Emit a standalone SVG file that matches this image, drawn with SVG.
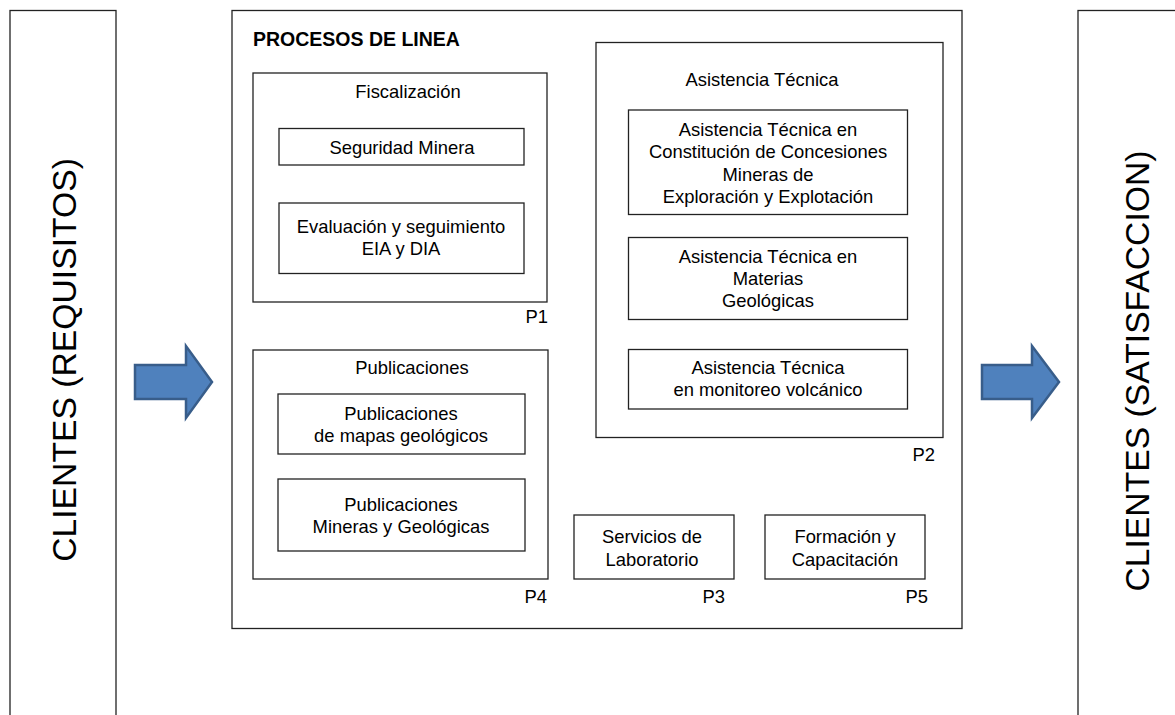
<svg xmlns="http://www.w3.org/2000/svg" width="1175" height="715" viewBox="0 0 1175 715">
<defs>
<style>
.box{fill:#fff;stroke:#222;stroke-width:1.3}
.t{font-family:"Liberation Sans",Arial,sans-serif;font-size:18.4px;fill:#000;text-anchor:middle}
.p{font-family:"Liberation Sans",Arial,sans-serif;font-size:18.4px;fill:#000;text-anchor:end}
.big{font-family:"Liberation Sans",Arial,sans-serif;font-size:33.7px;fill:#000;text-anchor:middle}
.title{font-family:"Liberation Sans",Arial,sans-serif;font-size:19.5px;font-weight:bold;fill:#000}
.arrow{fill:#4F81BD;stroke:#385D8A;stroke-width:2.5;stroke-linejoin:miter}
</style>
</defs>
<rect width="1175" height="715" fill="#fff"/>
<g id="clientes-requisitos">
<rect class="box" x="10" y="10.5" width="106" height="720"/>
<text class="big" transform="translate(76,360) rotate(-90)">CLIENTES (REQUISITOS)</text>
</g>
<g id="clientes-satisfaccion">
<rect class="box" x="1078" y="10.5" width="120" height="720"/>
<text class="big" transform="translate(1149,371) rotate(-90)">CLIENTES (SATISFACCION)</text>
</g>
<g id="procesos">
<rect class="box" x="232" y="10.5" width="730" height="618"/>
<text class="title" x="253" y="46">PROCESOS DE LINEA</text>
</g>
<g id="fiscalizacion">
<rect class="box" x="253" y="73" width="294" height="229"/>
<text class="t" x="408" y="97.5">Fiscalización</text>
<text class="p" x="548" y="323">P1</text>
</g>
<g id="seguridad">
<rect class="box" x="279" y="128.5" width="245" height="36.5"/>
<text class="t" x="402" y="154">Seguridad Minera</text>
</g>
<g id="evaluacion">
<rect class="box" x="279" y="203" width="245" height="70.5"/>
<text class="t" x="401" y="233">Evaluación y seguimiento</text>
<text class="t" x="401" y="255">EIA y DIA</text>
</g>
<g id="publicaciones">
<rect class="box" x="253" y="350" width="295" height="229"/>
<text class="t" x="412" y="374">Publicaciones</text>
<text class="p" x="547" y="603">P4</text>
</g>
<g id="pub-mapas">
<rect class="box" x="278" y="394" width="247" height="60"/>
<text class="t" x="401" y="420">Publicaciones</text>
<text class="t" x="401" y="442">de mapas geológicos</text>
</g>
<g id="pub-mineras">
<rect class="box" x="278" y="479" width="247" height="72"/>
<text class="t" x="401" y="511">Publicaciones</text>
<text class="t" x="401" y="533">Mineras y Geológicas</text>
</g>
<g id="asistencia">
<rect class="box" x="596" y="42.5" width="347" height="395"/>
<text class="t" x="762" y="86">Asistencia Técnica</text>
<text class="p" x="935" y="461">P2</text>
</g>
<g id="asist-concesiones">
<rect class="box" x="628.5" y="110" width="279" height="104.5"/>
<text class="t" x="768" y="136">Asistencia Técnica en</text>
<text class="t" x="768" y="158.3">Constitución de Concesiones</text>
<text class="t" x="768" y="180.6">Mineras de</text>
<text class="t" x="768" y="203">Exploración y Explotación</text>
</g>
<g id="asist-geologicas">
<rect class="box" x="628.5" y="237.5" width="279" height="82"/>
<text class="t" x="768" y="262.7">Asistencia Técnica en</text>
<text class="t" x="768" y="285">Materias</text>
<text class="t" x="768" y="307">Geológicas</text>
</g>
<g id="asist-volcanico">
<rect class="box" x="628.5" y="349.5" width="279" height="59.5"/>
<text class="t" x="768" y="374">Asistencia Técnica</text>
<text class="t" x="768" y="396">en monitoreo volcánico</text>
</g>
<g id="laboratorio">
<rect class="box" x="574" y="515" width="160" height="64"/>
<text class="t" x="652" y="543">Servicios de</text>
<text class="t" x="652" y="565.5">Laboratorio</text>
<text class="p" x="725" y="603">P3</text>
</g>
<g id="formacion">
<rect class="box" x="765" y="515" width="160" height="64"/>
<text class="t" x="845" y="543">Formación y</text>
<text class="t" x="845" y="565.5">Capacitación</text>
<text class="p" x="928" y="603">P5</text>
</g>
<g id="connectors">
<path class="arrow" d="M135,365 L186,365 L186,346 L212,382 L186,418 L186,399 L135,399 Z"/>
<path class="arrow" d="M982,365 L1032,365 L1032,346 L1059,382 L1032,418 L1032,399 L982,399 Z"/>
</g>
</svg>
